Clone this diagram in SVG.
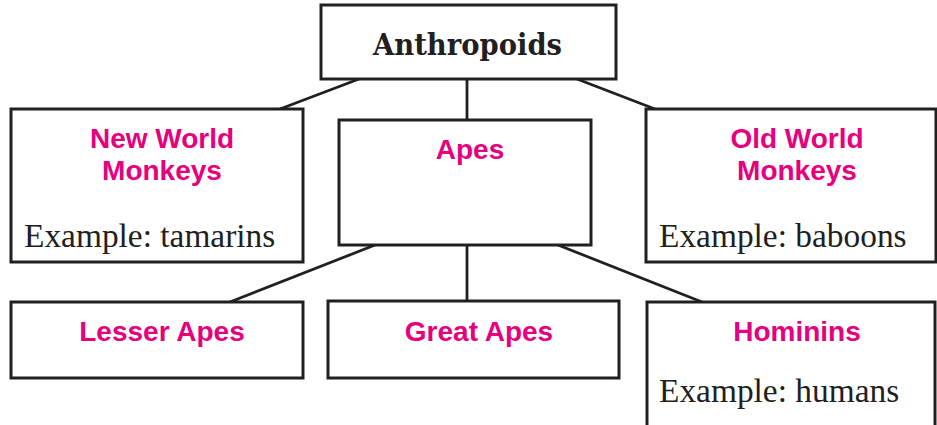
<svg xmlns="http://www.w3.org/2000/svg" width="937" height="425" viewBox="0 0 937 425">
<style>
.box{fill:#fff;stroke:#231F20;stroke-width:3}
.ln{stroke:#231F20;stroke-width:2.8;fill:none}
.title{font-family:"DejaVu Serif","Liberation Serif",serif;font-weight:bold;font-size:30px;fill:#231F20}
.pk{font-family:"Liberation Sans",Arial,sans-serif;font-weight:bold;font-size:28px;fill:#E6007E;text-anchor:middle}
.ex{font-family:"Liberation Serif","Times New Roman",serif;font-size:33.4px;fill:#231F20}
</style>
<rect width="937" height="425" fill="#fff"/>
<g id="connectors">
<line class="ln" x1="359" y1="79" x2="280" y2="109"/>
<line class="ln" x1="467" y1="79" x2="467" y2="120"/>
<line class="ln" x1="577" y1="79" x2="655" y2="109"/>
<line class="ln" x1="375" y1="245" x2="230" y2="302"/>
<line class="ln" x1="467" y1="245" x2="467" y2="302"/>
<line class="ln" x1="558" y1="245" x2="702" y2="302"/>
</g>
<g id="anthropoids">
<rect class="box" x="321" y="5" width="295" height="74"/>
<text class="title" x="373" y="55" textLength="189" lengthAdjust="spacingAndGlyphs">Anthropoids</text>
</g>
<g id="new-world">
<rect class="box" x="11" y="109" width="292" height="153"/>
<text class="pk" x="162" y="148">New World</text>
<text class="pk" x="162" y="180">Monkeys</text>
<text class="ex" x="24" y="247">Example: tamarins</text>
</g>
<g id="apes">
<rect class="box" x="339" y="120" width="252" height="125"/>
<text class="pk" x="470" y="159">Apes</text>
</g>
<g id="old-world">
<rect class="box" x="646" y="109" width="290" height="153"/>
<text class="pk" x="797" y="148">Old World</text>
<text class="pk" x="797" y="180">Monkeys</text>
<text class="ex" x="659" y="247">Example: baboons</text>
</g>
<g id="lesser-apes">
<rect class="box" x="11" y="302" width="292" height="76"/>
<text class="pk" x="162" y="341">Lesser Apes</text>
</g>
<g id="great-apes">
<rect class="box" x="328" y="301" width="291" height="77"/>
<text class="pk" x="479" y="341">Great Apes</text>
</g>
<g id="hominins">
<rect class="box" x="647" y="302" width="288" height="140"/>
<text class="pk" x="797" y="341">Hominins</text>
<text class="ex" x="659" y="402">Example: humans</text>
</g>
</svg>
